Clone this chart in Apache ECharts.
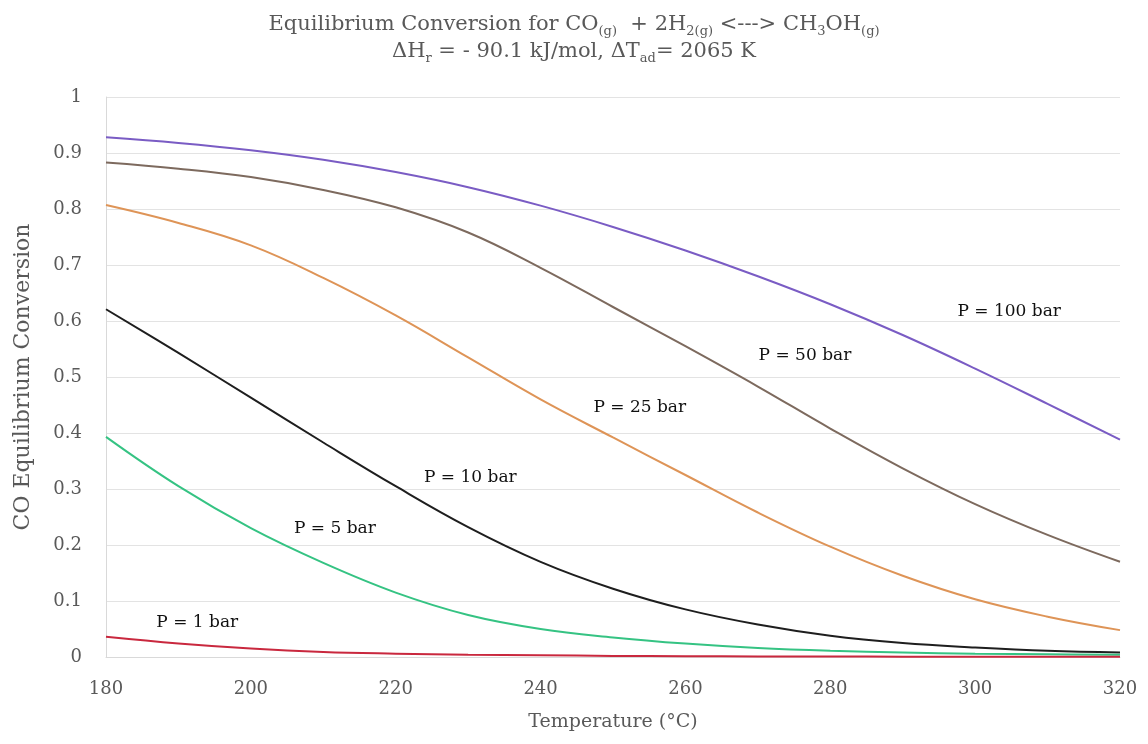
<!DOCTYPE html>
<html>
<head>
<meta charset="utf-8">
<script src="https://cdn.jsdelivr.net/npm/echarts@6/dist/echarts.min.js"></script>
<style>html,body{margin:0;padding:0;background:#fff}#c{width:1148px;height:744px}</style>
</head>
<body>
<div id="c"></div>
<script>
const temps = [180,190,200,210,220,230,240,250,260,270,280,290,300,310,320];
const p100 = [0.928,0.918,0.905,0.888,0.866,0.839,0.806,0.768,0.726,0.680,0.630,0.575,0.515,0.452,0.388];
const p50  = [0.883,0.872,0.857,0.834,0.803,0.758,0.695,0.625,0.555,0.483,0.408,0.337,0.273,0.218,0.170];
const p25  = [0.807,0.775,0.735,0.677,0.610,0.535,0.460,0.392,0.325,0.258,0.197,0.145,0.103,0.072,0.048];
const p10  = [0.621,0.543,0.463,0.383,0.305,0.232,0.170,0.122,0.085,0.058,0.038,0.025,0.017,0.011,0.008];
const p5   = [0.393,0.305,0.230,0.168,0.115,0.075,0.050,0.035,0.024,0.016,0.011,0.008,0.006,0.005,0.004];
const p1   = [0.036,0.024,0.015,0.009,0.006,0.004,0.003,0.002,0.0015,0.001,0.0008,0.0006,0.0005,0.0004,0.0003];
const seriesNames = ['P = 100 bar','P = 50 bar','P = 25 bar','P = 10 bar','P = 5 bar','P = 1 bar'];
const seriesData = [p100,p50,p25,p10,p5,p1];
const colors = ['#7a5cc4','#7d6a5e','#de9457','#1e1e1e','#35c383','#c9283e'];
const labelPos = [[304.7,0.616],[276.5,0.539],[253.7,0.446],[230.3,0.32],[211.6,0.23],[192.6,0.061]];

const serif = '"DejaVu Serif", "Liberation Serif", serif';
const chart = echarts.init(document.getElementById('c'));
chart.setOption({
  animation: false,
  backgroundColor: '#fff',
  title: {
    left: 'center',
    top: 6,
    text: '{n|Equilibrium Conversion for CO}{s|(g)}{n|  + 2H}{s|2(g)}{n| <---> CH}{s|3}{n|OH}{s|(g)}\n{n|ΔH}{s|r}{n| = - 90.1 kJ/mol, ΔT}{s|ad}{n|= 2065 K}',
    textStyle: {
      fontWeight: 'normal',
      rich: {
        n: {fontFamily: serif, fontSize: 21, fontWeight: 'normal', color: '#595959', lineHeight: 27, verticalAlign: 'middle'},
        s: {fontFamily: serif, fontSize: 13, fontWeight: 'normal', color: '#595959', lineHeight: 27, verticalAlign: 'bottom', padding: [9,0,0,0]}
      }
    }
  },
  grid: {left: 106, right: 28, top: 97, bottom: 87, containLabel: false},
  xAxis: {
    type: 'value', min: 180, max: 320, interval: 20,
    name: 'Temperature (°C)', nameLocation: 'middle', nameGap: 56,
    nameTextStyle: {fontFamily: serif, fontSize: 19, color: '#595959'},
    axisLine: {show: true, lineStyle: {color: '#d9d9d9', width: 1}},
    axisTick: {show: false},
    axisLabel: {fontFamily: serif, fontSize: 18, color: '#595959', margin: 23},
    splitLine: {show: false}
  },
  yAxis: {
    type: 'value', min: 0, max: 1, interval: 0.1,
    name: 'CO Equilibrium Conversion', nameLocation: 'middle', nameGap: 72, nameRotate: 90,
    nameTextStyle: {fontFamily: serif, fontSize: 22, color: '#595959'},
    axisLine: {show: true, lineStyle: {color: '#d9d9d9', width: 1}},
    axisTick: {show: false},
    axisLabel: {fontFamily: serif, fontSize: 18, color: '#595959', margin: 24},
    splitLine: {show: true, lineStyle: {color: '#e3e3e3', width: 1}}
  },
  series: seriesNames.map((name, i) => ({
    name: name,
    type: 'line',
    smooth: 0.4,
    showSymbol: false,
    symbol: 'none',
    lineStyle: {color: colors[i], width: 2},
    data: temps.map((t, j) => [t, seriesData[i][j]]),
    markPoint: {
      symbol: 'circle', symbolSize: 0,
      label: {show: true, position: 'inside', formatter: name, fontFamily: serif, fontSize: 17, color: '#111'},
      data: [{coord: labelPos[i], value: name}]
    }
  }))
});
</script>
</body>
</html>
